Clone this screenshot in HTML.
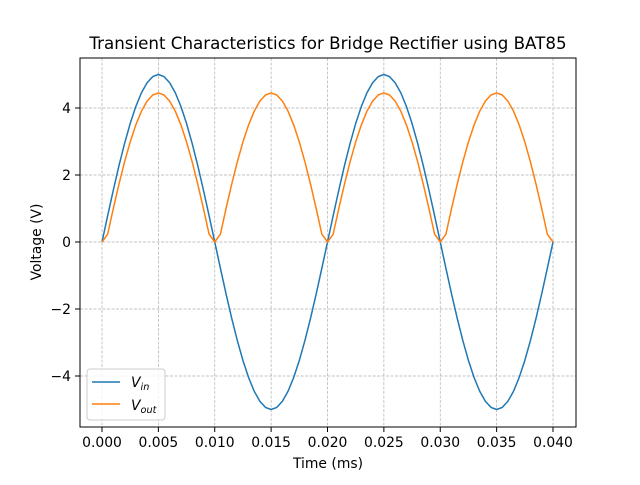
<!DOCTYPE html>
<html><head><meta charset="utf-8"><style>
body{margin:0;background:#fff}
svg{font-family:"DejaVu Sans","Liberation Sans",sans-serif}
</style></head><body>
<svg id="chart" width="640" height="480" viewBox="0 0 640 480">
<rect width="640" height="480" fill="#fff"/>
<g id="grid"></g>
<g id="lines"></g>
<rect x="80" y="58" width="496" height="369" fill="none" stroke="#000" stroke-width="1"/>
<g id="ticks"></g>
<text x="328" y="49" text-anchor="middle" font-size="16.7px">Transient Characteristics for Bridge Rectifier using BAT85</text>
<text x="328" y="468" text-anchor="middle" font-size="13.9px">Time (ms)</text>
<text transform="translate(41,242) rotate(-90)" text-anchor="middle" font-size="13.9px">Voltage (V)</text>
<g>
<rect x="87" y="369" width="78" height="51" rx="3" fill="#fff" fill-opacity="0.8" stroke="#ccc"/>
<line x1="92" y1="382" x2="120" y2="382" stroke="#1f77b4" stroke-width="1.5"/>
<text x="131" y="387" font-size="13.9px" font-style="italic">V<tspan font-size="9.7px" dy="3">in</tspan></text>
<line x1="92" y1="404" x2="120" y2="404" stroke="#ff7f0e" stroke-width="1.5"/>
<text x="131" y="410" font-size="13.9px" font-style="italic">V<tspan font-size="9.7px" dy="3">out</tspan></text>
</g>
</svg>
<script>
const xTicks=[0,0.005,0.010,0.015,0.020,0.025,0.030,0.035,0.040];
const xTickLabels=["0.000","0.005","0.010","0.015","0.020","0.025","0.030","0.035","0.040"];
const yTicks=[-4,-2,0,2,4];
const yTickLabels=["\u22124","\u22122","0","2","4"];
const timeStep=0.0005;
const vin=[0,.782,1.545,2.27,2.939,3.536,4.045,4.455,4.755,4.938,5,4.938,4.755,4.455,4.045,3.536,2.939,2.27,1.545,.782,0,
-.782,-1.545,-2.27,-2.939,-3.536,-4.045,-4.455,-4.755,-4.938,-5,-4.938,-4.755,-4.455,-4.045,-3.536,-2.939,-2.27,-1.545,-.782,0,
.782,1.545,2.27,2.939,3.536,4.045,4.455,4.755,4.938,5,4.938,4.755,4.455,4.045,3.536,2.939,2.27,1.545,.782,0,
-.782,-1.545,-2.27,-2.939,-3.536,-4.045,-4.455,-4.755,-4.938,-5,-4.938,-4.755,-4.455,-4.045,-3.536,-2.939,-2.27,-1.545,-.782,0];
const vout=[0,.232,.995,1.72,2.389,2.986,3.495,3.905,4.205,4.388,4.45,4.388,4.205,3.905,3.495,2.986,2.389,1.72,.995,.232,0,
.232,.995,1.72,2.389,2.986,3.495,3.905,4.205,4.388,4.45,4.388,4.205,3.905,3.495,2.986,2.389,1.72,.995,.232,0,
.232,.995,1.72,2.389,2.986,3.495,3.905,4.205,4.388,4.45,4.388,4.205,3.905,3.495,2.986,2.389,1.72,.995,.232,0,
.232,.995,1.72,2.389,2.986,3.495,3.905,4.205,4.388,4.45,4.388,4.205,3.905,3.495,2.986,2.389,1.72,.995,.232,0];
const NS="http://www.w3.org/2000/svg";
const xs=t=>102+t*(451/0.04);
const ys=v=>242-v*33.5;
function mk(tag,attrs,parent){const e=document.createElementNS(NS,tag);for(const k in attrs)e.setAttribute(k,attrs[k]);parent.appendChild(e);return e;}
const grid=document.getElementById('grid'),ticks=document.getElementById('ticks'),lines=document.getElementById('lines');
xTicks.forEach((t,i)=>{const x=xs(t);
const g=mk('line',{x1:x,x2:x,y1:58,y2:427,stroke:'#b0b0b0','stroke-width':0.7,'stroke-dasharray':'3,1.5'},grid);


const tk=mk('line',{x1:x,x2:x,y1:427,y2:432,stroke:'#000'},ticks);


const tx=mk('text',{x:x,y:447,'text-anchor':'middle','font-size':'13.9px'},ticks);tx.textContent=xTickLabels[i];

});
yTicks.forEach((v,i)=>{const y=ys(v);
const g=mk('line',{x1:80,x2:576,y1:y,y2:y,stroke:'#b0b0b0','stroke-width':0.7,'stroke-dasharray':'3,1.5'},grid);


const tk=mk('line',{x1:75,x2:80,y1:y,y2:y,stroke:'#000'},ticks);


const tx=mk('text',{x:71,y:y+5,'text-anchor':'end','font-size':'13.9px'},ticks);tx.textContent=yTickLabels[i];

});
function path(arr,color,name){const d=arr.map((v,i)=>(i?'L':'M')+xs(i*timeStep).toFixed(2)+','+ys(v).toFixed(2)).join('');
const p=mk('path',{d:d,fill:'none',stroke:color,'stroke-width':1.5,'stroke-linejoin':'round'},lines);

}
path(vin,'#1f77b4','vin-line');
path(vout,'#ff7f0e','vout-line');
</script>
</body></html>
